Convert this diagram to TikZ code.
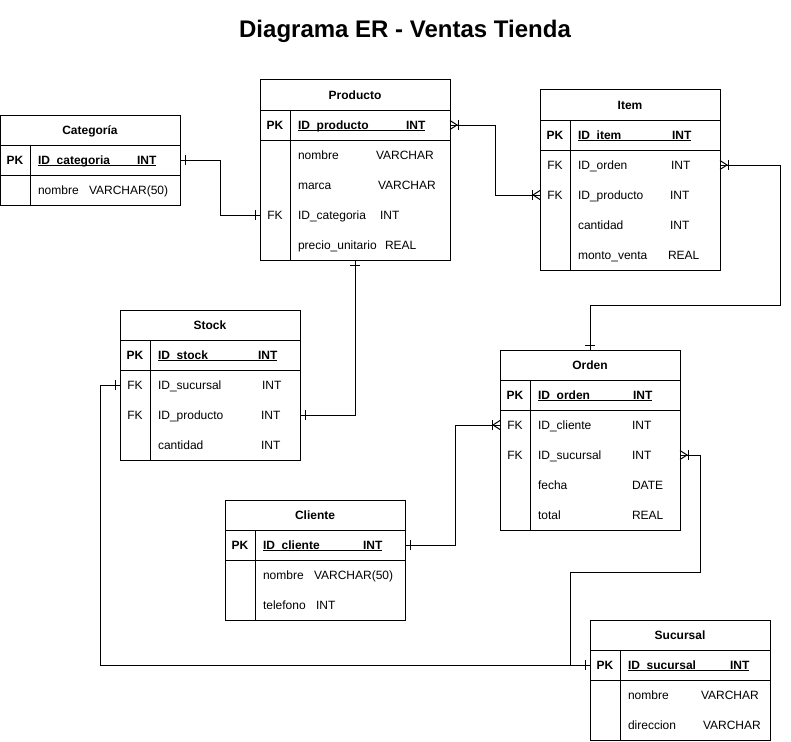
\documentclass[tikz,border=0pt]{standalone}
\usepackage{fontspec}
\setmainfont{Liberation Sans}
\usetikzlibrary{calc}
\tikzset{
  every picture/.style={line width=1pt},
  tblbox/.style={draw, rectangle, inner sep=0pt, outer sep=0pt},
  txt/.style={inner sep=0pt, outer sep=0pt, font=\fontsize{12}{14}\selectfont},
  txtb/.style={txt, font=\fontsize{12}{14}\selectfont\bfseries},
  ttl/.style={inner sep=0pt, font=\fontsize{24}{28}\selectfont\bfseries},
  onemk/.pic={\draw (5,-5) -- (5,5);},
  manymk/.pic={\draw (0,-4.5) -- (7,0) -- (0,4.5); \draw (8,-5) -- (8,5);},
}
\newcommand\tbl[6]{%
  \node[tblbox, minimum width=#4pt, minimum height=#5pt, anchor=north west] (#1) at (#2,#3) {};
  \node[txtb, anchor=base] (#1-h) at (#2+#4/2,#3+19.3) {#6};
  \draw (#2,#3+30) -- ++(#4,0);
  \draw (#2,#3+60) -- ++(#4,0);
  \draw (#2+30,#3+30) -- (#2+30,#3+#5);
}
\newcommand\pkfld[7]{%
  \coordinate (#1) at (#2,#3);
  \node[txtb, anchor=base] (#1-k) at (#2,#3+4.3) {PK};
  \node[txtb, anchor=base west] (#1-n) at (#4,#3+4.3) {#5};
  \node[txtb, anchor=base west] (#1-t) at (#6,#3+4.3) {#7};
  \draw ([yshift=-1.6pt]#1-n.base west) -- ([yshift=-1.6pt]#1-t.base east);
}
\newcommand\fld[8]{%
  \coordinate (#1) at (#3,#4);
  \node[txt, anchor=base] (#1-k) at (#3,#4+4.3) {#2};
  \node[txt, anchor=base west] (#1-n) at (#5,#4+4.3) {#6};
  \node[txt, anchor=base west] (#1-t) at (#7,#4+4.3) {#8};
}
\begin{document}
\begin{tikzpicture}[x=1pt, y=-1pt]
\useasboundingbox (0,0) rectangle (791,741);
\node[ttl, anchor=base] (title) at (405,38) {Diagrama ER - Ventas Tienda};

% Categoria
\tbl{cat}{0}{115}{180}{90}{Categoría}
\pkfld{cat0}{15}{160}{38}{ID\_categoria}{137}{INT}
\fld{cat1}{}{15}{190}{38}{nombre}{89}{VARCHAR(50)}

% Producto
\tbl{prod}{260}{80}{190}{180}{Producto}
\pkfld{prod0}{275}{125}{298}{ID\_producto}{406}{INT}
\fld{prod1}{}{275}{155}{298}{nombre}{376}{VARCHAR}
\fld{prod2}{}{275}{185}{298}{marca}{378}{VARCHAR}
\fld{prod3}{FK}{275}{215}{298}{ID\_categoria}{380}{INT}
\fld{prod4}{}{275}{245}{298}{precio\_unitario}{385}{REAL}

% Item
\tbl{item}{540}{90}{180}{180}{Item}
\pkfld{item0}{555}{135}{578}{ID\_item}{672}{INT}
\fld{item1}{FK}{555}{165}{578}{ID\_orden}{671}{INT}
\fld{item2}{FK}{555}{195}{578}{ID\_producto}{670}{INT}
\fld{item3}{}{555}{225}{578}{cantidad}{670}{INT}
\fld{item4}{}{555}{255}{578}{monto\_venta}{668}{REAL}

% Stock
\tbl{stock}{120}{310}{180}{150}{Stock}
\pkfld{stock0}{135}{355}{158}{ID\_stock}{258}{INT}
\fld{stock1}{FK}{135}{385}{158}{ID\_sucursal}{262}{INT}
\fld{stock2}{FK}{135}{415}{158}{ID\_producto}{261}{INT}
\fld{stock3}{}{135}{445}{158}{cantidad}{261}{INT}

% Orden
\tbl{ord}{500}{350}{180}{180}{Orden}
\pkfld{ord0}{515}{395}{538}{ID\_orden}{633}{INT}
\fld{ord1}{FK}{515}{425}{538}{ID\_cliente}{632}{INT}
\fld{ord2}{FK}{515}{455}{538}{ID\_sucursal}{632}{INT}
\fld{ord3}{}{515}{485}{538}{fecha}{632}{DATE}
\fld{ord4}{}{515}{515}{538}{total}{632}{REAL}

% Cliente
\tbl{cli}{225}{500}{180}{120}{Cliente}
\pkfld{cli0}{240}{545}{263}{ID\_cliente}{363}{INT}
\fld{cli1}{}{240}{575}{263}{nombre}{314}{VARCHAR(50)}
\fld{cli2}{}{240}{605}{263}{telefono}{316}{INT}

% Sucursal
\tbl{suc}{590}{620}{180}{120}{Sucursal}
\pkfld{suc0}{605}{665}{628}{ID\_sucursal}{730}{INT}
\fld{suc1}{}{605}{695}{628}{nombre}{701}{VARCHAR}
\fld{suc2}{}{605}{725}{628}{direccion}{703}{VARCHAR}

% Connectors
\draw (cat.east |- cat0) -- ++(40,0) |- (prod.west |- prod3);
\draw (prod.east |- prod0) -- ++(45,0) |- (item.west |- item2);
\draw (item.east |- item1) -- ++(60,0) -- ++(0,140) -| (ord.north);
\draw (prod.south) |- (stock.east |- stock2);
\draw (cli.east |- cli0) -- ++(50,0) |- (ord.west |- ord1);
\draw (ord.east |- ord2) -- ++(20,0) -- ++(0,117) -- ++(-130,0) |- (suc.west |- suc0);
\draw (stock.west |- stock1) -- ++(-20,0) |- (suc.west |- suc0);

% Markers
\pic at (cat.east |- cat0) {onemk};
\pic[rotate=180] at (prod.west |- prod3) {onemk};
\pic at (prod.east |- prod0) {manymk};
\pic[rotate=180] at (item.west |- item2) {manymk};
\pic at (item.east |- item1) {manymk};
\pic[rotate=90] at (ord.north) {onemk};
\pic[rotate=-90] at (prod.south) {onemk};
\pic at (stock.east |- stock2) {onemk};
\pic at (cli.east |- cli0) {onemk};
\pic[rotate=180] at (ord.west |- ord1) {manymk};
\pic at (ord.east |- ord2) {manymk};
\pic[rotate=180] at (suc.west |- suc0) {onemk};
\pic[rotate=180] at (stock.west |- stock1) {onemk};
\end{tikzpicture}
\end{document}
